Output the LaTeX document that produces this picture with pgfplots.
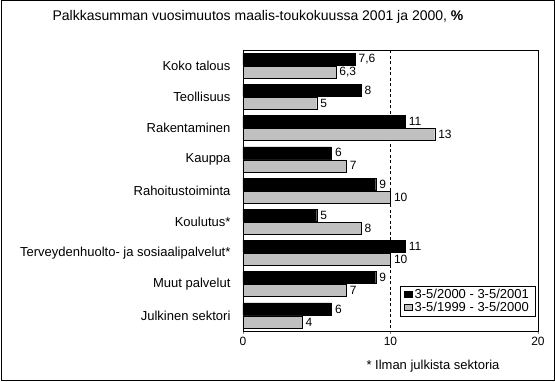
\documentclass[border=0pt]{standalone}
\usepackage{fontspec}
\setmainfont{Liberation Sans}
\usepackage{pgfplots}
\pgfplotsset{compat=1.18}
\definecolor{bargray}{RGB}{192,192,192}
\begin{document}
\begin{tikzpicture}[x=1pt,y=1pt]
\useasboundingbox (0,0) rectangle (555,382);
\draw[line width=1pt] (1,1) rectangle (554,381);
\node[font=\fontsize{14}{16}\selectfont] at (258,365) {Palkkasumman vuosimuutos maalis-toukokuussa 2001 ja 2000, \textbf{\%}};
\node[font=\fontsize{13}{15}\selectfont, anchor=west] at (363,16) {* Ilman julkista sektoria};
\begin{axis}[
  at={(243pt,51pt)}, anchor=south west,
  scale only axis, width=295pt, height=281pt,
  xbar, bar width=12pt,
  xmin=0, xmax=20, ymin=-0.5, ymax=8.5,
  y dir=reverse,
  ytick={0,...,8},
  yticklabels={Koko talous, Teollisuus, Rakentaminen, Kauppa, Rahoitustoiminta, Koulutus*, Terveydenhuolto- ja sosiaalipalvelut*, Muut palvelut, Julkinen sektori},
  yticklabel style={font=\fontsize{13}{15}\selectfont, xshift=-6pt},
  ytick style={draw=none},
  xtick={0,10,20},
  xtick pos=bottom,
  tick align=outside,
  major tick length=3pt,
  xticklabel style={font=\fontsize{12}{13}\selectfont, /pgf/number format/assume math mode=true},
  extra x ticks={10},
  extra x tick labels={},
  extra x tick style={grid=major, major grid style={black, dash pattern=on 3pt off 2.5pt}, major tick length=0pt},
  axis line style={black},
  nodes near coords,
  every node near coord/.append style={font=\fontsize{12}{13}\selectfont, /pgf/number format/use comma, /pgf/number format/assume math mode=true, black},
  legend style={at={(0.99,0.053)}, anchor=south east, draw=black, font=\fontsize{13}{14}\selectfont, inner xsep=4pt, inner ysep=1pt, row sep=-2pt, cells={anchor=west}},
  legend image code/.code={\draw[#1] (0pt,-3pt) rectangle (8pt,3pt);},
]
\addplot[fill=black, draw=black, bar shift=6.5pt] coordinates {(7.6,0) (8,1) (11,2) (6,3) (9,4) (5,5) (11,6) (9,7) (6,8)};
\addplot[fill=bargray, draw=black, bar shift=-6.5pt] coordinates {(6.3,0) (5,1) (13,2) (7,3) (10,4) (8,5) (10,6) (7,7) (4,8)};
\legend{3-5/2000 - 3-5/2001, 3-5/1999 - 3-5/2000}
\end{axis}
\end{tikzpicture}
\end{document}
